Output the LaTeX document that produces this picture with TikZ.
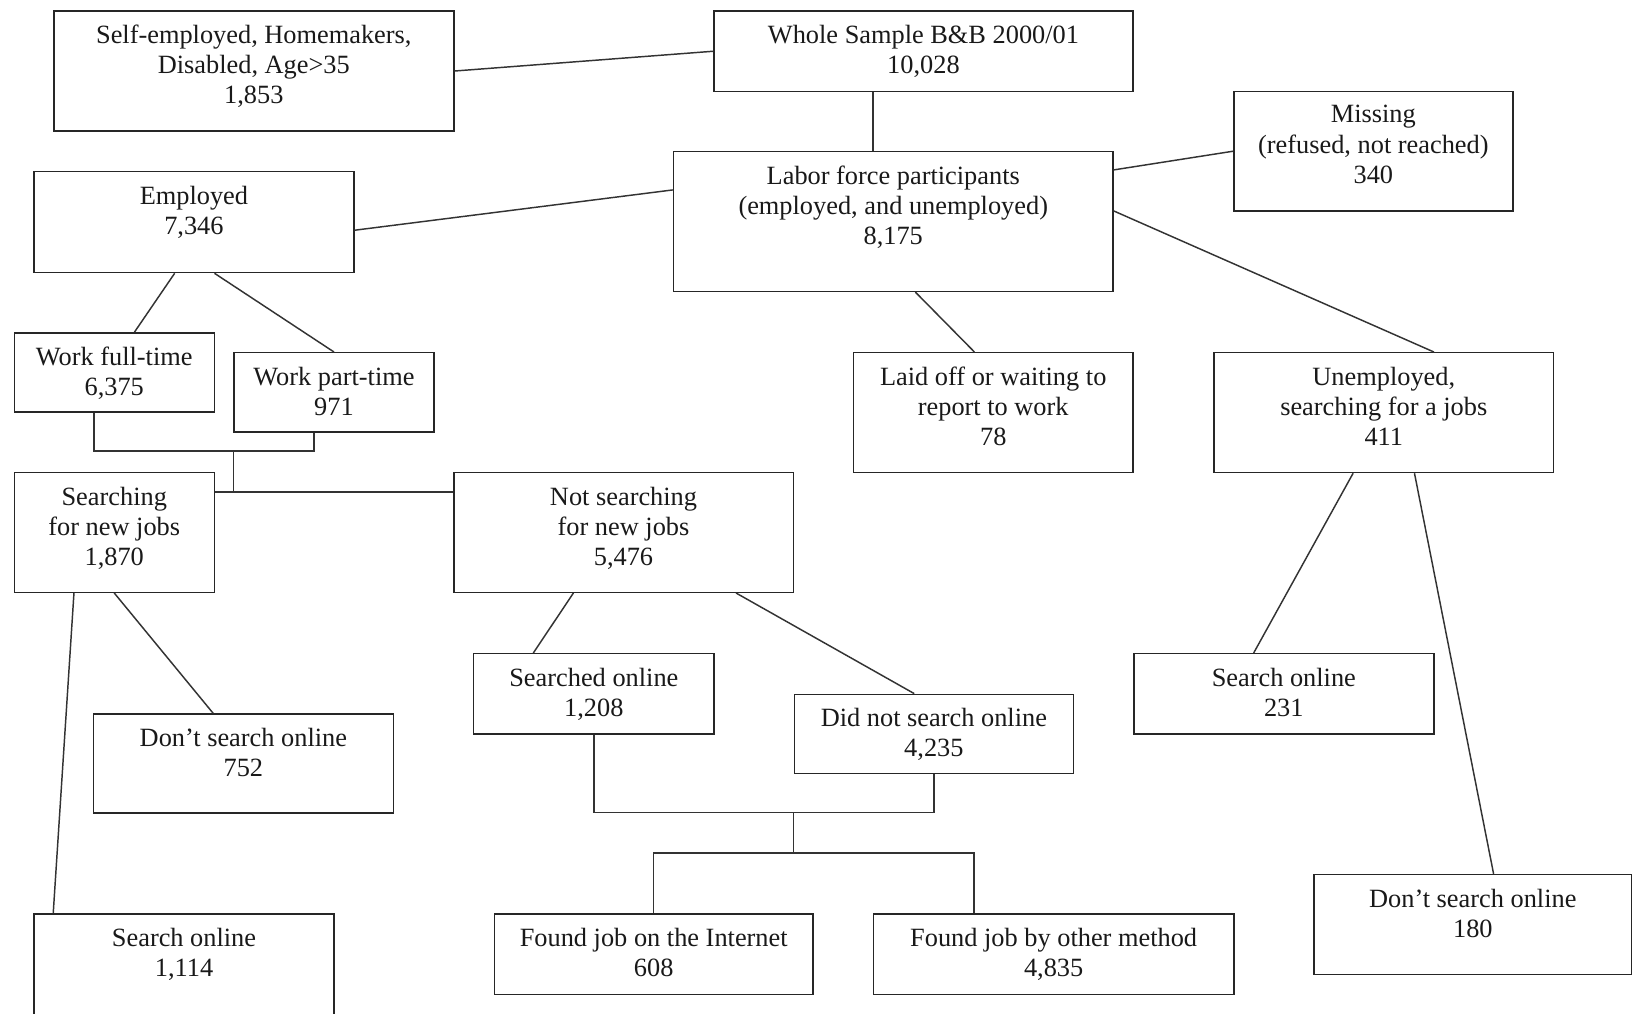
\documentclass[tikz,border=0pt]{standalone}
\usepackage{fontspec}
\setmainfont{Liberation Serif}
\usetikzlibrary{calc}
\tikzset{
  box/.style={draw=black!85, line width=0.8pt, inner sep=0pt, anchor=north west},
  lbl/.style={align=center, inner sep=0pt, anchor=north, font=\fontsize{14.4}{16.4}\selectfont, text=black!90},
  conn/.style={draw=black!80, line width=0.8pt},
}
\newcommand{\mkbox}[6]{%
  \node[box, minimum width={(#4-#2)*0.02cm}, minimum height={(#5-#3)*0.02cm}] (#1) at (#2,#3) {};
  \node[lbl] (#1-t) at ([yshift=-0.28cm]#1.north) {#6};
}
\begin{document}
\begin{tikzpicture}[x=0.02cm, y=-0.02cm]
\useasboundingbox (0,0) rectangle (1568,973);
\fill[white] (0,0) rectangle (1568,973);
\clip (0,0) rectangle (1568,973);

\mkbox{self}{51}{10}{435}{125}{Self-employed, Homemakers,\\Disabled, Age>35\\1,853}
\mkbox{ws}{685}{10}{1087}{87}{Whole Sample B\&B 2000/01\\10,028}
\mkbox{miss}{1184}{87}{1452}{202}{Missing\\(refused, not reached)\\340}
\mkbox{lab}{646}{145}{1068}{279}{Labor force participants\\(employed, and unemployed)\\8,175}
\mkbox{emp}{32}{164}{339}{261}{Employed\\7,346}
\mkbox{full}{13}{319}{205}{395}{Work full-time\\6,375}
\mkbox{part}{224}{338}{416}{414}{Work part-time\\971}
\mkbox{laid}{819}{338}{1087}{453}{Laid off or waiting to\\report to work\\78}
\mkbox{unemp}{1165}{338}{1491}{453}{Unemployed,\\searching for a jobs\\411}
\mkbox{srch}{13}{453}{205}{568}{Searching\\for new jobs\\1,870}
\mkbox{nsrch}{435}{453}{761}{568}{Not searching\\for new jobs\\5,476}
\mkbox{sdon}{454}{627}{685}{704}{Searched online\\1,208}
\mkbox{dnot}{762}{666}{1030}{742}{Did not search online\\4,235}
\mkbox{uson}{1088}{627}{1376}{704}{Search online\\231}
\mkbox{edont}{89}{685}{377}{780}{Don’t search online\\752}
\mkbox{eson}{32}{877}{320}{1010}{Search online\\1,114}
\mkbox{fint}{474}{877}{780}{954}{Found job on the Internet\\608}
\mkbox{foth}{838}{877}{1184}{954}{Found job by other method\\4,835}
\mkbox{udont}{1261}{839}{1566}{935}{Don’t search online\\180}

\draw[conn] (self.east) -- (ws.west);
\draw[conn] ($(ws.south west)!0.38!(ws.south east)$) coordinate (wsb) -- (wsb |- lab.north);
\draw[conn] ($(lab.north west)!0.276!(lab.south west)$) -- ($(emp.north east)!0.58!(emp.south east)$);
\draw[conn] ($(lab.north east)!0.134!(lab.south east)$) -- (miss.west);
\draw[conn] ($(lab.north east)!0.425!(lab.south east)$) -- ($(unemp.north west)!0.647!(unemp.north east)$);
\draw[conn] ($(lab.south west)!0.55!(lab.south east)$) -- ($(laid.north west)!0.433!(laid.north east)$);
\draw[conn] ($(emp.south west)!0.44!(emp.south east)$) -- ($(full.north west)!0.60!(full.north east)$);
\draw[conn] ($(emp.south west)!0.564!(emp.south east)$) -- (part.north);
\coordinate (j1) at (224,433);
\draw[conn] ($(full.south west)!0.40!(full.south east)$) |- (j1) -| ($(part.south west)!0.40!(part.south east)$);
\draw[conn] ($(srch.north east)!0.165!(srch.south east)$) coordinate (sr) -- (sr -| nsrch.west);
\draw[conn] (j1) -- (j1 |- sr);
\draw[conn] ($(srch.south west)!0.30!(srch.south east)$) -- ($(eson.north west)!0.066!(eson.north east)$);
\draw[conn] (srch.south) -- ($(edont.north west)!0.40!(edont.north east)$);
\draw[conn] ($(nsrch.south west)!0.353!(nsrch.south east)$) -- ($(sdon.north west)!0.25!(sdon.north east)$);
\draw[conn] ($(nsrch.south west)!0.83!(nsrch.south east)$) -- ($(dnot.north west)!0.43!(dnot.north east)$);
\coordinate (j3) at (762,780);
\coordinate (j4) at (762,819);
\draw[conn] (sdon.south) |- (j3) -| (dnot.south);
\draw[conn] (j3) -- (j4);
\draw[conn] (fint.north) |- (j4) -| ($(foth.north west)!0.28!(foth.north east)$);
\draw[conn] ($(unemp.south west)!0.41!(unemp.south east)$) -- ($(uson.north west)!0.40!(uson.north east)$);
\draw[conn] ($(unemp.south west)!0.59!(unemp.south east)$) -- ($(udont.north west)!0.565!(udont.north east)$);
\end{tikzpicture}
\end{document}
